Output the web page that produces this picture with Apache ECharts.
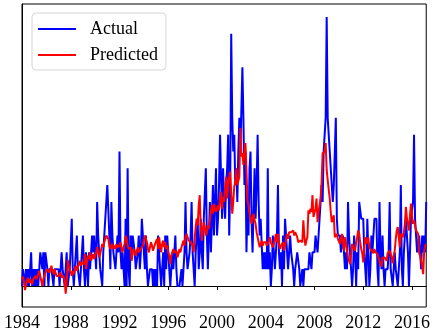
<!DOCTYPE html>
<html>
<head>
<meta charset="utf-8">
<script src="https://cdn.jsdelivr.net/npm/echarts@6/dist/echarts.min.js"></script>
<style>
  html, body { margin: 0; padding: 0; background: #fff; }
  #chart { width: 433px; height: 334px; }
</style>
</head>
<body>
<div id="chart"></div>
<script>
// Monthly series starting January 1984, one row per year.
const startYear = 1984;
const seriesNames = ['Actual', 'Predicted'];

const actual = [
  0,1,1,0,1,0,1,0,1,2,0,1,        // 1984
  0,1,0,1,0,1,2,2,1,2,0,2,        // 1985
  2,1,0,1,1,1,1,0,1,1,1,1,        // 1986
  1,0,1,2,1,1,0,1,2,0,0,1,        // 1987
  1,4,1,0,1,2,3,1,1,0,1,2,        // 1988
  3,1,0,2,1,0,2,1,1,3,2,3,        // 1989
  2,1,5,3,2,1,1,0,2,3,4,4,        // 1990
  6,6,3,1,5,3,2,2,1,1,3,2,        // 1991
  8,2,1,2,1,0,4,0,7,1,0,3,        // 1992
  2,3,3,2,1,1,2,3,1,2,4,3,        // 1993
  2,1,3,1,0,0,1,1,1,0,1,0,        // 1994
  1,0,3,3,1,0,1,2,0,3,1,3,        // 1995
  3,1,0,1,2,1,1,3,1,0,0,0,        // 1996
  0,1,0,1,2,5,2,1,1,2,3,5,        // 1997
  2,1,0,2,3,4,1,2,4,2,1,4,        // 1998
  4,7,3,1,3,5,2,4,6,3,3,7,        // 1999
  3,4,6,9,9,4,7,5,4,6,7,9,        // 2000
  3,6,15,10,8,9,6,7,5,8,10,8,     // 2001
  8,13,10,6,8,2,5,3,7,8,4,2,      // 2002
  2,7,4,6,9,5,3,4,4,1,2,1,        // 2003
  2,1,7,1,2,0,1,3,2,1,1,3,        // 2004
  6,2,1,2,0,3,1,4,3,2,1,1,        // 2005
  3,2,2,1,0,1,1,2,2,1,0,0,        // 2006
  1,0,1,1,1,1,1,2,2,1,2,2,        // 2007
  2,3,3,2,3,4,4,6,5,8,8,10,       // 2008
  16,10,9,8,8,6,5,6,6,10,4,3,     // 2009
  3,3,2,2,3,3,1,2,1,5,3,2,        // 2010
  2,0,1,3,2,0,2,1,5,5,4,4,        // 2011
  4,2,2,0,4,4,0,1,3,2,3,4,        // 2012
  4,4,1,0,5,2,1,3,1,0,1,1,        // 2013
  1,2,5,1,1,0,1,2,1,1,0,0,        // 2014
  2,6,1,0,2,3,4,3,2,0,2,4,        // 2015
  4,5,9,4,3,2,2,3,2,1,3,2,        // 2016
  3,2,5                           // 2017
];

const predicted = [
  0.4,0.55,0.2,-0.25,0.1,0.3,0.5,0.2,0.4,0.3,0.1,0.4,     // 1984
  0.3,0.6,0.4,0.5,0.7,0.9,0.6,0.3,0.0,0.4,0.6,0.8,        // 1985
  0.7,1.0,1.1,0.8,1.0,1.2,0.9,0.7,1.0,0.8,0.6,0.5,        // 1986
  0.6,0.55,0.8,0.5,0.4,0.6,0.3,-0.45,0.2,1.55,1.2,1.0,    // 1987
  0.8,0.6,0.9,0.7,1.0,1.2,0.9,1.1,1.3,1.5,1.2,1.4,        // 1988
  1.5,1.3,1.9,1.0,1.4,1.8,1.6,2.0,1.5,1.7,1.9,1.6,        // 1989
  1.8,2.0,2.3,2.0,1.7,1.9,2.2,2.5,2.3,2.6,2.8,3.0,        // 1990
  3.0,2.8,2.4,2.2,2.3,2.5,2.2,2.4,2.2,2.5,2.3,2.2,        // 1991
  2.4,2.6,2.2,2.0,2.3,2.5,3.0,2.8,2.4,2.2,2.1,2.3,        // 1992
  1.5,2.0,2.2,2.0,1.8,2.1,2.3,2.0,1.9,2.2,2.1,2.4,        // 1993
  2.5,3.0,3.1,2.6,2.2,2.0,2.3,2.6,2.4,2.1,2.3,2.5,        // 1994
  2.5,2.8,2.2,2.9,2.4,2.0,2.5,2.7,2.3,2.6,2.2,2.4,        // 1995
  2.0,1.8,1.3,1.8,2.0,2.2,2.0,1.9,2.1,1.7,1.9,2.2,        // 1996
  2.0,2.3,2.5,2.7,2.4,2.9,3.1,3.0,2.7,2.8,2.6,2.5,        // 1997
  2.4,2.0,2.8,3.5,4.0,3.6,4.8,5.4,3.5,2.7,3.3,3.8,        // 1998
  3.5,3.0,3.2,3.6,3.4,3.9,4.5,4.8,4.3,4.9,4.6,4.4,        // 1999
  4.3,4.8,4.5,5.2,5.6,4.6,5.3,5.0,5.8,6.5,5.2,6.0,        // 2000
  6.5,6.8,5.5,4.3,5.0,5.9,6.2,7.0,6.0,6.1,6.5,9.4,        // 2001
  7.7,7.9,7.2,8.0,8.5,6.9,5.1,4.8,4.3,4.0,3.7,4.1,        // 2002
  4.3,3.9,3.7,3.2,2.9,2.6,2.3,2.5,2.7,2.4,2.6,2.5,        // 2003
  2.6,2.4,2.5,2.7,2.9,2.6,2.5,2.3,2.5,2.8,3.1,2.6,        // 2004
  3.1,2.5,2.2,2.4,2.3,2.6,2.1,2.4,2.3,3.1,2.8,3.2,        // 2005
  3.1,3.2,3.1,3.3,3.0,3.2,3.1,2.9,2.6,2.5,2.7,2.6,        // 2006
  2.6,3.9,3.0,2.4,2.7,2.9,4.5,4.3,4.6,4.4,5.4,4.1,        // 2007
  4.1,4.6,5.2,3.8,4.4,4.8,5.2,6.2,7.9,8.0,8.0,8.5,        // 2008
  6.9,6.3,6.3,5.2,4.4,3.8,4.0,4.2,2.9,3.0,3.1,2.8,        // 2009
  2.7,2.5,2.8,3.1,2.6,2.1,2.9,2.5,2.1,1.7,1.5,1.3,        // 2010
  1.8,2.5,2.3,2.4,2.1,2.6,2.9,3.3,3.1,2.6,2.2,1.95,       // 2011
  1.4,2.2,2.9,2.5,2.7,2.9,2.3,2.4,2.1,2.0,1.95,2.2,       // 2012
  2.0,2.1,1.9,1.7,1.5,1.3,1.15,1.7,1.8,1.7,1.6,1.5,       // 2013
  1.95,2.0,2.1,1.9,1.7,1.35,1.8,2.1,2.8,3.3,3.5,2.9,      // 2014
  2.3,3.1,3.0,2.9,3.2,3.7,4.7,4.0,3.7,3.3,4.2,4.9,        // 2015
  4.2,3.7,3.9,3.6,3.3,3.2,3.1,1.95,1.8,1.7,1.2,0.7,       // 2016
  2.1,2.4,2.5                                             // 2017
];

const tickStepYears = 4;

// Pair each monthly value with its decimal year.
const toPoints = arr => arr.map((v, i) => [startYear + i / 12, v]);
const lastYear = startYear + (actual.length - 1) / 12;

const font = '"Liberation Serif", "Times New Roman", serif';

const chart = echarts.init(document.getElementById('chart'), null, { renderer: 'canvas' });
chart.setOption({
  animation: false,
  backgroundColor: '#ffffff',
  grid: {
    left: 22, right: 4, top: 4, bottom: 27,
    show: true, borderColor: '#000', borderWidth: 1, backgroundColor: 'transparent'
  },
  legend: {
    orient: 'vertical',
    left: 32, top: 13,
    data: seriesNames,
    icon: 'rect',
    itemWidth: 38, itemHeight: 2,
    itemGap: 8,
    padding: [7, 8, 6, 6],
    borderColor: '#d6d6d6', borderWidth: 1, borderRadius: 4,
    backgroundColor: 'rgba(255,255,255,0.8)',
    textStyle: { fontFamily: font, fontSize: 18, color: '#000', padding: [0, 0, 0, 9], lineHeight: 18 }
  },
  xAxis: {
    type: 'value',
    min: startYear, max: lastYear, interval: tickStepYears,
    axisLine: { show: true, lineStyle: { color: '#000', width: 1 } },
    axisTick: { show: true, inside: false, length: 4, lineStyle: { color: '#000', width: 1 } },
    axisLabel: {
      show: true, margin: 7, color: '#000',
      fontFamily: font, fontSize: 18,
      formatter: v => String(Math.round(v))
    },
    splitLine: { show: false }
  },
  yAxis: {
    type: 'value',
    min: -1.25, max: 16.77,
    axisLine: { show: true, lineStyle: { color: '#000', width: 1 } },
    axisTick: { show: false },
    axisLabel: { show: false },
    splitLine: { show: false }
  },
  series: [
    {
      name: seriesNames[0], type: 'line', data: toPoints(actual),
      symbol: 'none', lineStyle: { color: '#0000ff', width: 2 }, itemStyle: { color: '#0000ff' },
      z: 2
    },
    {
      name: seriesNames[1], type: 'line', data: toPoints(predicted),
      symbol: 'none', lineStyle: { color: '#ff0000', width: 2 }, itemStyle: { color: '#ff0000' },
      z: 3
    }
  ]
});
</script>
</body>
</html>
